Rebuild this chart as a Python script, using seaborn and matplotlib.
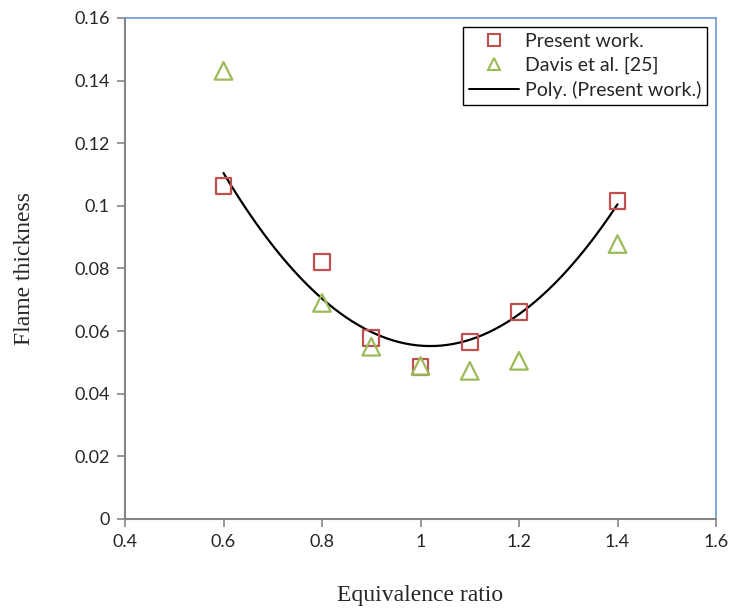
import numpy as np
import pandas as pd
import matplotlib
matplotlib.use("Agg")
import matplotlib.pyplot as plt
from matplotlib.lines import Line2D
import seaborn as sns

# Equivalence ratio and flame thickness values
phi = [0.6, 0.8, 0.9, 1.0, 1.1, 1.2, 1.4]
present_work = [0.1064, 0.0821, 0.0578, 0.0485, 0.0565, 0.0661, 0.1016]
davis = [0.1431, 0.0690, 0.0550, 0.0489, 0.0473, 0.0505, 0.0878]

x_ticks = [0.4, 0.6, 0.8, 1.0, 1.2, 1.4, 1.6]
x_tick_labels = ["0.4", "0.6", "0.8", "1", "1.2", "1.4", "1.6"]
y_ticks = [0, 0.02, 0.04, 0.06, 0.08, 0.1, 0.12, 0.14, 0.16]
y_tick_labels = ["0", "0.02", "0.04", "0.06", "0.08", "0.1", "0.12", "0.14", "0.16"]

sns.set_style("white")
plt.rcParams["font.family"] = ["Lato", "DejaVu Sans"]

df = pd.DataFrame({"phi": phi, "present": present_work, "davis": davis})

# Second-order polynomial trendline through the present-work points
coef = np.polyfit(phi, present_work, 2)
fit_x = np.linspace(min(phi), max(phi), 200)
fit = pd.DataFrame({"phi": fit_x, "thick": np.polyval(coef, fit_x)})

fig = plt.figure(figsize=(7.31, 6.12), dpi=100)
ax = fig.add_axes([0.171, 0.152, 0.8085, 0.8187])

red = "#C0504D"
green = "#9BBB59"

sns.lineplot(data=fit, x="phi", y="thick", ax=ax, color="black", linewidth=1.6,
             zorder=3, label="_nolegend_")
sns.scatterplot(data=df, x="phi", y="present", ax=ax, marker="s", s=130,
                facecolor="none", edgecolor=red, linewidth=1.6, zorder=4)
sns.scatterplot(data=df, x="phi", y="davis", ax=ax, marker="^", s=160,
                facecolor="none", edgecolor=green, linewidth=1.6, zorder=4)

ax.set_xlim(0.4, 1.6)
ax.set_ylim(0, 0.16)
ax.set_xticks(x_ticks)
ax.set_xticklabels(x_tick_labels)
ax.set_yticks(y_ticks)
ax.set_yticklabels(y_tick_labels)
ax.tick_params(axis="both", labelsize=13, direction="out", length=6, width=1.2,
               color="#868686", bottom=True, left=True, pad=5)

for side in ["left", "bottom"]:
    ax.spines[side].set_color("#868686")
    ax.spines[side].set_linewidth(1.5)
for side in ["top", "right"]:
    ax.spines[side].set_color("#6B9BD1")
    ax.spines[side].set_linewidth(1.2)

ax.set_xlabel("Equivalence ratio", family="Liberation Serif", fontsize=17, labelpad=25)
ax.set_ylabel("Flame thickness", family="Liberation Serif", fontsize=17, labelpad=28)

handles = [
    Line2D([], [], linestyle="none", marker="s", markersize=8.5, markerfacecolor="none",
           markeredgecolor=red, markeredgewidth=1.5),
    Line2D([], [], linestyle="none", marker="^", markersize=8.5, markerfacecolor="none",
           markeredgecolor=green, markeredgewidth=1.5),
    Line2D([], [], color="black", linewidth=1.4),
]
labels = ["Present work.", "Davis et al. [25]", "Poly. (Present work.)"]
leg = ax.legend(handles, labels, loc="upper right", bbox_to_anchor=(0.985, 0.982),
                fontsize=14, frameon=True, fancybox=False, framealpha=1,
                borderpad=0.3, labelspacing=0.35, handlelength=2.6, handletextpad=0.3,
                borderaxespad=0)
leg.get_frame().set_edgecolor("black")
leg.get_frame().set_linewidth(1.0)

fig.savefig("out.png", dpi=100)
